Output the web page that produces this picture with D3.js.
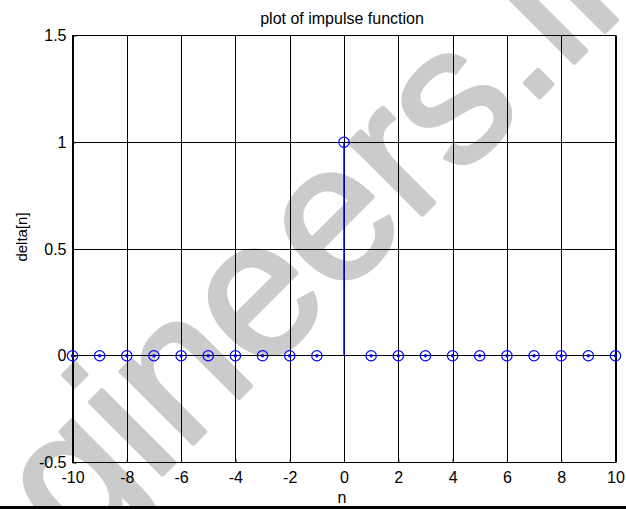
<!DOCTYPE html>
<html>
<head>
<meta charset="utf-8">
<script src="https://cdn.jsdelivr.net/npm/d3@7"></script>
<style>
  html, body { margin: 0; padding: 0; background: #fff; }
  svg { display: block; }
  text { font-family: "Liberation Sans", Arial, sans-serif; }
</style>
</head>
<body>
<svg id="chart" width="626" height="509"></svg>
<script>
const nValues = [-10, -9, -8, -7, -6, -5, -4, -3, -2, -1, 0, 1, 2, 3, 4, 5, 6, 7, 8, 9, 10];
const deltaValues = [0, 0, 0, 0, 0, 0, 0, 0, 0, 0, 1, 0, 0, 0, 0, 0, 0, 0, 0, 0, 0];
const xTicks = [-10, -8, -6, -4, -2, 0, 2, 4, 6, 8, 10];
const yTicks = [-0.5, 0, 0.5, 1, 1.5];
const titleText = "plot of impulse function";
const xLabel = "n";
const yLabel = "delta[n]";
const watermark = "gineers.in";

const svg = d3.select("#chart");
svg.append("rect").attr("width", 626).attr("height", 509).attr("fill", "#fff");

// watermark (behind the chart lines)
svg.append("text").attr("transform", "translate(77,560) rotate(-45)")
  .attr("font-size", 194)
  .attr("fill", "#cbcbcb").attr("stroke", "#cbcbcb").attr("stroke-width", 4)
  .attr("stroke-linejoin", "round").text(watermark);

const x = d3.scaleLinear().domain([-10, 10]).range([72.5, 615.5]);
const y = d3.scaleLinear().domain([-0.5, 1.5]).range([462.5, 35.5]);

const g = svg.append("g");

// grid
g.selectAll("line.vgrid").data(xTicks).join("line")
  .attr("x1", d => Math.round(x(d)) + 0.5).attr("x2", d => Math.round(x(d)) + 0.5)
  .attr("y1", y(1.5)).attr("y2", y(-0.5))
  .attr("stroke", "#000").attr("stroke-width", 1);
g.selectAll("line.hgrid").data(yTicks).join("line")
  .attr("y1", d => Math.round(y(d) - 0.5) + 0.5).attr("y2", d => Math.round(y(d) - 0.5) + 0.5)
  .attr("x1", x(-10)).attr("x2", x(10))
  .attr("stroke", "#000").attr("stroke-width", 1);

// axes (ticks inside, MATLAB style)
const fmt = d => String(d);
const xAxis = d3.axisBottom(x).tickValues(xTicks).tickSize(-4).tickPadding(9).tickFormat(fmt);
const yAxis = d3.axisLeft(y).tickValues(yTicks).tickSize(-4).tickPadding(6).tickFormat(fmt);
const gx = svg.append("g").attr("transform", `translate(0,${y(-0.5)})`).call(xAxis);
const gy = svg.append("g").attr("transform", `translate(${x(-10)},0)`).call(yAxis);
[gx, gy].forEach(a => {
  a.select(".domain").remove();
  a.selectAll("text").attr("font-size", 16).attr("fill", "#000").attr("font-family", "Liberation Sans, Arial, sans-serif");
  a.selectAll("line").attr("stroke", "#000");
});
gx.selectAll("text").attr("dy", "0.71em");

// box
svg.append("rect").attr("x", x(-10)).attr("y", y(1.5))
  .attr("width", x(10) - x(-10)).attr("height", y(-0.5) - y(1.5))
  .attr("fill", "none").attr("stroke", "#000").attr("stroke-width", 1);

// stems
const data = nValues.map((n, i) => ({ n, v: deltaValues[i] }));
svg.selectAll("line.stem").data(data.filter(d => d.v !== 0)).join("line")
  .attr("x1", d => x(d.n)).attr("x2", d => x(d.n))
  .attr("y1", y(0)).attr("y2", d => y(d.v))
  .attr("stroke", "#0000ff").attr("stroke-width", 1.5);
svg.selectAll("circle.dot").data(data.filter(d => d.v === 0)).join("circle")
  .attr("cx", d => x(d.n)).attr("cy", d => y(d.v)).attr("r", 1.7)
  .attr("fill", "#0000ff");
svg.selectAll("circle.mk").data(data).join("circle")
  .attr("cx", d => x(d.n)).attr("cy", d => y(d.v)).attr("r", 5.2)
  .attr("fill", "none").attr("stroke", "#0000ff").attr("stroke-width", 1.2);

// labels
svg.append("text").attr("x", 342).attr("y", 24).attr("text-anchor", "middle")
  .attr("font-size", 16).attr("fill", "#000").text(titleText);
svg.append("text").attr("x", 342).attr("y", 503).attr("text-anchor", "middle")
  .attr("font-size", 16).attr("fill", "#000").text(xLabel);
svg.append("text").attr("transform", "translate(27,237) rotate(-90)").attr("text-anchor", "middle")
  .attr("font-size", 15).attr("fill", "#000").text(yLabel);

// bottom border
svg.append("rect").attr("x", 0).attr("y", 506).attr("width", 626).attr("height", 3).attr("fill", "#000");
</script>
</body>
</html>
